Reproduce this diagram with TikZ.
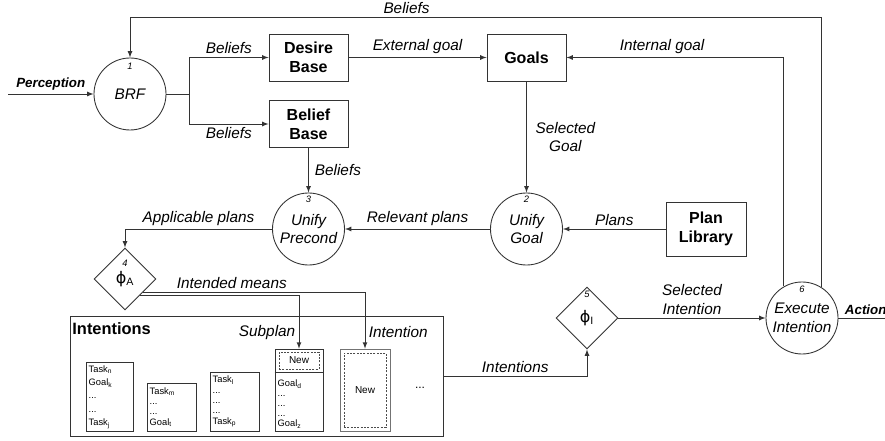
\documentclass[tikz,border=0pt]{standalone}
\usepackage{fontspec}
\setmainfont{Liberation Sans}
\newfontfamily\phifont{DejaVu Sans}
\usetikzlibrary{shapes.geometric,calc}

\begin{document}
\begin{tikzpicture}[x=0.75pt, y=-0.75pt, line width=0.65pt,
    proc/.style={circle, draw=black!80, minimum size=54pt, inner sep=0pt, align=center, font=\fontsize{11.5}{14}\selectfont\itshape},
    store/.style={rectangle, draw=black!80, minimum width=59.25pt, minimum height=35.25pt, inner sep=0pt, align=center, font=\fontsize{12}{14.5}\selectfont\bfseries},
    choice/.style={diamond, draw=black!80, aspect=1, minimum size=46.5pt, inner sep=0pt, font=\fontsize{12}{14}\selectfont},
    num/.style={font=\fontsize{7}{8}\selectfont\itshape, inner sep=0pt},
    lbl/.style={font=\fontsize{11.5}{14}\selectfont\itshape, inner sep=2.5pt, align=center},
    io/.style={font=\fontsize{10}{12}\selectfont\bfseries\itshape, inner sep=2.5pt},
    arr/.style={-latex, draw=black!80},
    ln/.style={draw=black!80},
    stack/.style={draw=black!80, line width=0.55pt, inner sep=2pt, align=left, font=\fontsize{7}{7.7}\selectfont},
    newbox/.style={draw=black!70, line width=0.55pt, dash pattern=on 1.5pt off 1pt, inner sep=0pt, font=\fontsize{7.5}{8}\selectfont},
]
\useasboundingbox (0,0) rectangle (885,441);

\node[proc] (brf) at (130,94) {BRF};
\node[num] (n1) at ([yshift=-6.75pt]brf.north) {1};
\node[store] (desire) at (308.5,57.5) {Desire\\Base};
\node[store] (belief) at (308.5,124) {Belief\\Base};
\node[store] (goals) at (526.5,57.5) {Goals};
\node[proc] (ugoal) at (526.5,229) {Unify\\Goal};
\node[num] (n2) at ([yshift=-5.25pt]ugoal.north) {2};
\node[proc] (uprec) at (308.5,229) {Unify\\Precond};
\node[num] (n3) at ([yshift=-5.25pt]uprec.north) {3};
\node[store, minimum width=60pt, minimum height=40.5pt] (plib) at (706,229) {Plan\\Library};
\node[choice] (phiA) at (125,279) {{\phifont ϕ}\textsubscript{A}};
\node[num] (n4) at ([yshift=-12pt]phiA.north) {4};
\node[choice] (phiI) at (587,318) {{\phifont ϕ}\textsubscript{I}};
\node[num] (n5) at ([yshift=-6pt]phiI.north) {5};
\node[proc] (exe) at (802,318) {Execute\\Intention};
\node[num] (n6) at ([yshift=-6pt]exe.north) {6};

\node[draw=black!80, minimum width=279.75pt, minimum height=90pt, inner sep=0pt] (intc) at (256.5,376) {};
\node[anchor=west, inner sep=0pt, font=\fontsize{12.3}{14}\selectfont\bfseries] (ilbl) at (72,329) {Intentions};
\node[stack, text width=31.25pt, minimum height=51pt, font=\fontsize{7}{10}\selectfont] (s1) at (109.5,397) {Task\textsubscript{n}\\Goal\textsubscript{k}\\...\\...\\Task\textsubscript{j}};
\node[stack, text width=32.75pt, minimum height=36pt] (s2) at (171.5,407) {Task\textsubscript{m}\\...\\...\\Goal\textsubscript{t}};
\node[stack, text width=32.75pt, minimum height=44.25pt] (s3) at (234.5,401.5) {Task\textsubscript{l}\\...\\...\\...\\Task\textsubscript{p}};
\node[stack, minimum width=36pt, minimum height=61.5pt] (sub) at (299,390) {};
\node[newbox, minimum width=30pt, minimum height=12.75pt] (subnew) at (299,360.5) {New};
\coordinate (subsep) at (299,372);
\draw[ln, line width=0.55pt] (sub.west |- subsep) -- (sub.east |- subsep);
\node[stack, draw=none, text width=32pt, font=\fontsize{7}{7.5}\selectfont] (subtxt) at (299,404) {Goal\textsubscript{d}\\...\\...\\...\\Goal\textsubscript{z}};
\node[draw=black!55, line width=0.55pt, minimum width=37.5pt, minimum height=61.5pt, inner sep=0pt] (intent) at (365,390) {};
\node[newbox, minimum width=31.5pt, minimum height=55.5pt] (intnew) at (365,390) {New};
\node[font=\fontsize{9}{10}\selectfont] (more) at (420,388) {...};

\coordinate (pin) at (8,94);
\coordinate (split) at (189,94);
\coordinate (loop) at (130,17);
\coordinate (pout) at (893,318);
\coordinate (imA) at ($(phiA.east)!0.43!(phiA.south)$);
\coordinate (imB) at ($(phiA.east)!0.53!(phiA.south)$);

\draw[arr] (pin) -- (brf) node[midway, above, io] {Perception};
\draw[ln] (brf) -- (split);
\draw[arr] (split) |- (desire) node[pos=0.75, above, lbl] {Beliefs};
\draw[arr] (split) |- (belief) node[pos=0.75, below, lbl] {Beliefs};
\draw[arr] (desire) -- (goals) node[midway, above, lbl] {External goal};
\draw[arr] (belief) -- (uprec) node[midway, right, lbl, xshift=2pt] {Beliefs};
\draw[arr] (goals) -- (ugoal) node[midway, right, lbl, xshift=4pt] {Selected\\Goal};
\draw[arr] (plib) -- (ugoal) node[midway, above, lbl] {Plans};
\draw[arr] (ugoal) -- (uprec) node[midway, above, lbl] {Relevant plans};
\draw[arr] (uprec) -| (phiA) node[pos=0.25, above, lbl] {Applicable plans};
\draw[arr] (imA) -| (intent) node[pos=0.2, above, lbl] {Intended means} node[pos=0.85, right, lbl] {Intention};
\draw[arr] (imB) -| (sub) node[pos=0.85, left, lbl] {Subplan};
\draw[arr] (intc) -| (phiI) node[pos=0.25, above, lbl] {Intentions};
\draw[arr] (phiI) -- (exe) node[midway, above, lbl] {Selected\\Intention};
\draw[arr] (exe.120) |- (goals) node[pos=0.78, above, lbl] {Internal goal};
\draw[arr] (exe.58) |- (loop) node[pos=0.8, above, lbl] {Beliefs} -- (brf);
\draw[arr] (exe) -- (pout) node[midway, above, io] {Action};

\end{tikzpicture}
\end{document}
